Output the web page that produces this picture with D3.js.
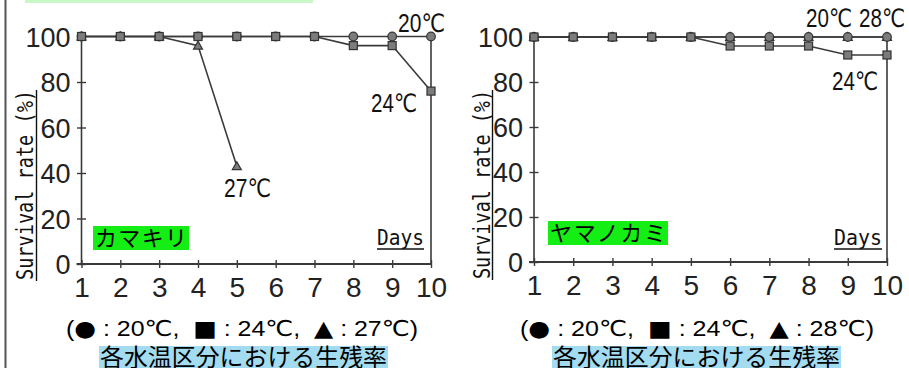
<!DOCTYPE html>
<html><head><meta charset="utf-8">
<script src="https://cdn.jsdelivr.net/npm/d3@7"></script>
<style>
html,body{margin:0;padding:0;background:#fff;}
svg{display:block;}
</style></head>
<body>
<svg id="c" width="909" height="368"></svg>
<script>
// ---------- data ----------
const days = [1,2,3,4,5,6,7,8,9,10];
const yTicks = [0,20,40,60,80,100];
const dayTicks = [1,2,3,4,5,6,7,8,9,10];

const kamakiri20 = [100,100,100,100,100,100,100,100,100,100];
const kamakiri24 = [100,100,100,100,100,100,100,96,96,76];
const kamakiri27 = [100,100,100,96,43];

const yamanokami20 = [100,100,100,100,100,100,100,100,100,100];
const yamanokami24 = [100,100,100,100,100,96,96,96,92,92];
const yamanokami28 = [100,100,100,100,100,100,100,100,100,100];

const speciesNames = ["カマキリ","ヤマノカミ"];
const legendSymbols = ["●","■","▲"];
const legendTemps = [["20℃","24℃","27℃"],["20℃","24℃","28℃"]];
const captionText = "各水温区分における生残率";
const yTitle = "Survival rate (%)";
const xTitle = "Days";

// ---------- drawing ----------
const svg = d3.select("#c");
const LINE = "#3a3a3a", MFILL = "#7c7c7c", MSTROKE = "#333";

svg.append("rect").attr("x",25).attr("y",0).attr("width",288).attr("height",3).attr("fill","#c8f7c8");
svg.append("line").attr("x1",5.5).attr("x2",5.5).attr("y1",0).attr("y2",368).attr("stroke","#555").attr("stroke-width",2);

const panels = [
  { x0:81.5, x1:431, y0:264, y1:36.5,
    series:[{shape:"circle",values:kamakiri20},{shape:"triangle",values:kamakiri27},{shape:"square",values:kamakiri24}],
    labels:[{t:"20℃",x:398,y:32,w:47},{t:"24℃",x:371,y:112,w:46},{t:"27℃",x:224,y:197,w:47}],
    name:speciesNames[0], nameBox:{x:93,y:226,w:96,h:24,tx:95,ty:246,tw:92},
    days:{x:377,y:245,w:47}, ytitle:{x:33,yb:280,yt:90,ux:36.5},
    legend:{temps:legendTemps[0],x:66,y:336,w:352}, cap:{x:99,w:289}
  },
  { x0:534, x1:887, y0:262, y1:37,
    series:[{shape:"triangle",values:yamanokami28},{shape:"circle",values:yamanokami20},{shape:"square",values:yamanokami24}],
    labels:[{t:"20℃",x:806,y:27,w:46},{t:"28℃",x:859,y:27,w:46},{t:"24℃",x:832,y:90,w:46}],
    name:speciesNames[1], nameBox:{x:548,y:221,w:120,h:24,tx:550,ty:241,tw:116},
    days:{x:834,y:245,w:48}, ytitle:{x:490,yb:279,yt:90,ux:492.5},
    legend:{temps:legendTemps[1],x:520,y:336,w:354}, cap:{x:552,w:289}
  }
];

panels.forEach(p => {
  const x = d3.scaleLinear().domain([1,10]).range([p.x0,p.x1]);
  const y = d3.scaleLinear().domain([0,100]).range([p.y0,p.y1]);
  const g = svg.append("g");

  g.append("line").attr("x1",x(10)).attr("x2",x(10)).attr("y1",y(100)).attr("y2",y(0))
    .attr("stroke",LINE).attr("stroke-width",1.6);

  const ya = g.append("g").attr("transform",`translate(${x(1)},0)`)
    .call(d3.axisLeft(y).tickValues(yTicks).tickSize(5).tickPadding(6).tickFormat(d3.format("d")));
  ya.select(".domain").attr("stroke",LINE).attr("stroke-width",1.6).attr("d",`M0,${y(0)}V${y(100)}`);
  ya.selectAll(".tick line").attr("x1",4.5).attr("x2",-4.5).attr("stroke",LINE).attr("stroke-width",1.4);
  ya.selectAll(".tick text").attr("font-family","Liberation Sans, Arial, sans-serif").attr("font-size",27).attr("fill","#222").attr("dy","0.36em");

  const xa = g.append("g").attr("transform",`translate(0,${y(0)})`)
    .call(d3.axisBottom(x).tickValues(dayTicks).tickSize(4).tickPadding(9).tickFormat(d3.format("d")));
  xa.select(".domain").attr("stroke",LINE).attr("stroke-width",2.2).attr("d",`M${x(1)-5},0H${x(10)+1}`);
  xa.selectAll(".tick line").attr("y1",-4).attr("y2",4).attr("stroke",LINE).attr("stroke-width",1.4);
  xa.selectAll(".tick text").attr("font-family","Liberation Sans, Arial, sans-serif").attr("font-size",28).attr("fill","#222");

  const line = d3.line().x((d,i)=>x(days[i])).y(d=>y(d));
  p.series.forEach(s => {
    g.append("path").attr("d",line(s.values)).attr("fill","none").attr("stroke",LINE).attr("stroke-width",1.6);
  });
  p.series.forEach(s => {
    s.values.forEach((v,i) => {
      const cx = x(days[i]), cy = y(v);
      if (s.shape==="circle") {
        g.append("circle").attr("cx",cx).attr("cy",cy).attr("r",4.3).attr("fill",MFILL).attr("stroke",MSTROKE).attr("stroke-width",1.2);
      } else if (s.shape==="square") {
        g.append("rect").attr("x",cx-4).attr("y",cy-4).attr("width",8).attr("height",8).attr("fill",MFILL).attr("stroke",MSTROKE).attr("stroke-width",1.2);
      } else {
        g.append("path").attr("d",`M${cx},${cy-4.5}L${cx+4.5},${cy+3.5}L${cx-4.5},${cy+3.5}Z`).attr("fill",MFILL).attr("stroke",MSTROKE).attr("stroke-width",1.2);
      }
    });
  });

  p.labels.forEach(l => {
    g.append("text").attr("x",l.x).attr("y",l.y).text(l.t)
      .attr("font-family","Liberation Sans, DejaVu Sans, sans-serif").attr("font-size",25).attr("fill","#111")
      .attr("textLength",l.w).attr("lengthAdjust","spacingAndGlyphs");
  });

  g.append("rect").attr("x",p.nameBox.x).attr("y",p.nameBox.y).attr("width",p.nameBox.w).attr("height",p.nameBox.h).attr("fill","#14ee14");
  g.append("text").attr("x",p.nameBox.tx).attr("y",p.nameBox.ty).text(p.name)
    .attr("font-family","Noto Sans CJK JP, sans-serif").attr("font-size",22).attr("fill","#000")
    .attr("textLength",p.nameBox.tw).attr("lengthAdjust","spacing");

  g.append("text").attr("x",p.days.x).attr("y",p.days.y).text(xTitle)
    .attr("font-family","DejaVu Sans Mono, Liberation Mono, monospace").attr("font-size",21).attr("fill","#111")
    .attr("textLength",p.days.w).attr("lengthAdjust","spacingAndGlyphs");
  g.append("line").attr("x1",p.days.x).attr("x2",p.days.x+p.days.w).attr("y1",p.days.y+4).attr("y2",p.days.y+4)
    .attr("stroke","#111").attr("stroke-width",1.4);

  const yt = p.ytitle;
  g.append("text").attr("transform",`translate(${yt.x},${yt.yb}) rotate(-90)`).text(yTitle)
    .attr("font-family","DejaVu Sans Mono, Liberation Mono, monospace").attr("font-size",23).attr("fill","#111")
    .attr("textLength",yt.yb-yt.yt).attr("lengthAdjust","spacingAndGlyphs");
  g.append("line").attr("x1",yt.ux).attr("x2",yt.ux).attr("y1",yt.yt).attr("y2",yt.yb+1)
    .attr("stroke","#111").attr("stroke-width",1.4);

  // legend: pieces laid out one after another
  const pieces = [{t:"(",sym:false}];
  p.legend.temps.forEach((t,i) => {
    pieces.push({t:legendSymbols[i],sym:true});
    pieces.push({t:" : " + t + (i<2 ? ",  " : ""),sym:false});
  });
  pieces.push({t:")",sym:false});
  const lg = svg.append("g");
  let cx = 0;
  pieces.forEach(pc => {
    const tx = lg.append("text").attr("x",cx).attr("y",p.legend.y).text(pc.t)
      .attr("xml:space","preserve").style("white-space","pre")
      .attr("font-family", pc.sym ? "DejaVu Sans, sans-serif" : "Liberation Sans, DejaVu Sans, sans-serif")
      .attr("font-size",22).attr("fill","#000");
    cx += tx.node().getComputedTextLength();
  });
  const sx = p.legend.w / cx;
  lg.attr("transform",`translate(${p.legend.x},0) scale(${sx},1)`);

  svg.append("rect").attr("x",p.cap.x).attr("y",346).attr("width",p.cap.w).attr("height",24).attr("fill","#a3dcf0");
  svg.append("text").attr("x",p.cap.x+1).attr("y",366).text(captionText)
    .attr("font-family","Noto Sans CJK JP, sans-serif").attr("font-size",24).attr("fill","#000")
    .attr("textLength",p.cap.w-2).attr("lengthAdjust","spacingAndGlyphs");
});
</script>
</body></html>
